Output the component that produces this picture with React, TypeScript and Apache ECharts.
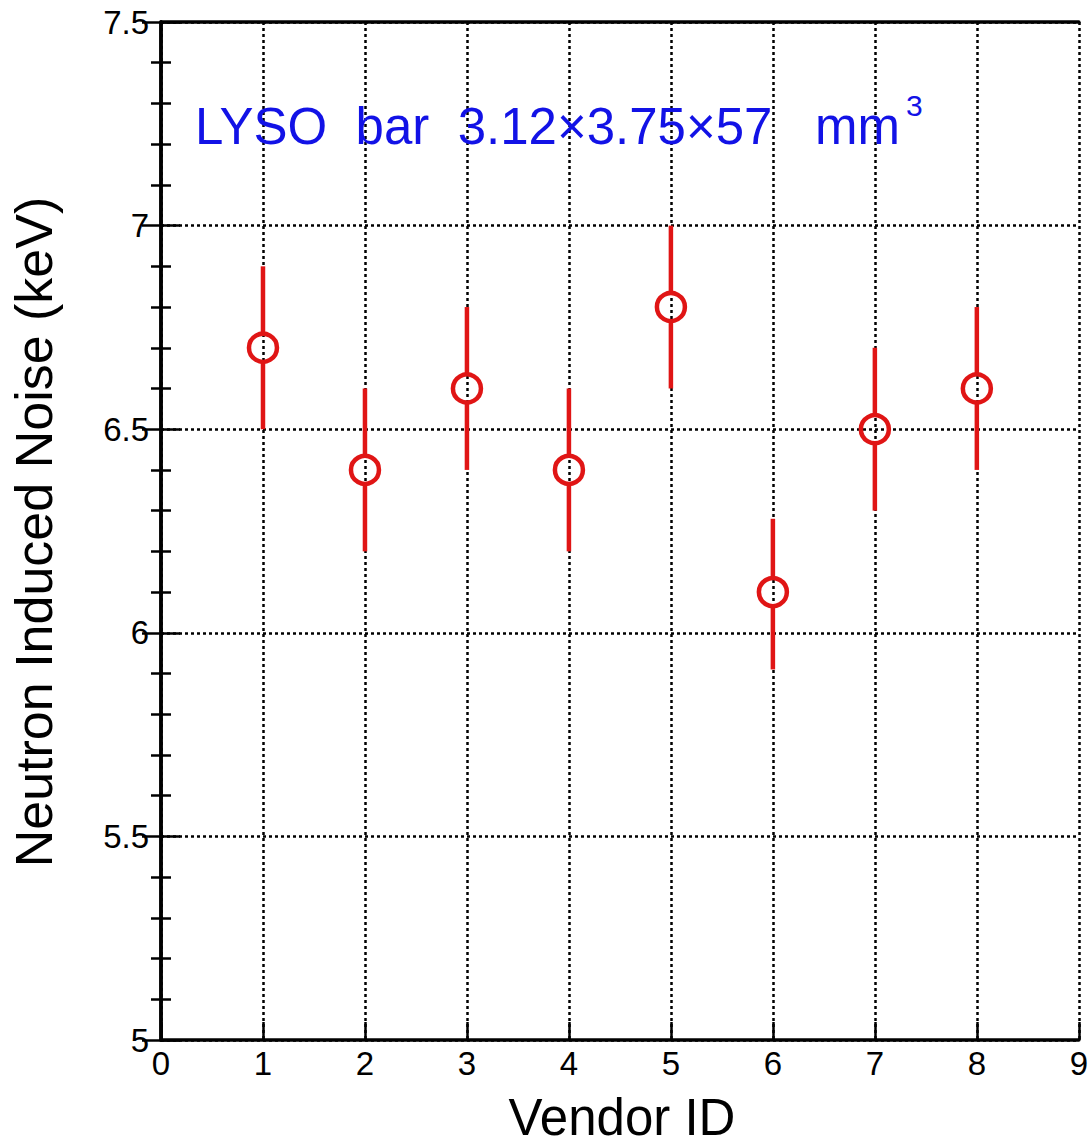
import React, { useEffect, useRef } from "react";
import * as echarts from "echarts";

const vendors = [1, 2, 3, 4, 5, 6, 7, 8];
const noise = [6.7, 6.4, 6.6, 6.4, 6.8, 6.1, 6.5, 6.6];
const errLow = [6.5, 6.2, 6.4, 6.2, 6.6, 5.91, 6.3, 6.4];
const errHigh = [6.9, 6.6, 6.8, 6.6, 7.0, 6.28, 6.7, 6.8];

const xTitle = "Vendor ID";
const yTitle = "Neutron Induced Noise (keV)";
const annotation = "LYSO  bar  3.12×3.75×57   mm";
const annotationSup = "3";

const RED = "#e01515";
const BLUE = "#1212e6";
const FONT = "'Liberation Sans', Arial, sans-serif";

export default function App() {
  const ref = useRef<HTMLDivElement>(null);
  useEffect(() => {
    if (!ref.current) return;
    const chart = echarts.init(ref.current, null, { renderer: "svg" });
    const data = vendors.map((v, i) => [v, noise[i], errLow[i], errHigh[i]]);
    const gridLine = { show: true, lineStyle: { color: "#000", width: 2.5, type: [3, 3] } };
    const frame = { show: true, lineStyle: { color: "#000", width: 3.5 } };
    chart.setOption({
      animation: false,
      backgroundColor: "#fff",
      textStyle: { fontFamily: FONT },
      grid: { left: 161, right: 8, top: 22, bottom: 105, containLabel: false },
      xAxis: [
        {
          type: "value",
          min: 0,
          max: 9,
          interval: 1,
          position: "bottom",
          axisLine: frame,
          axisTick: { show: true, inside: true, length: 18, lineStyle: { color: "#000", width: 2.5 } },
          axisLabel: { fontSize: 33, color: "#000", margin: 7, fontFamily: FONT, showMinLabel: true, showMaxLabel: true },
          splitLine: gridLine,
        },
        {
          type: "value",
          min: 0,
          max: 9,
          interval: 1,
          position: "top",
          axisLine: frame,
          axisTick: { show: false },
          axisLabel: { show: false },
          splitLine: { show: false },
        },
      ],
      yAxis: [
        {
          type: "value",
          min: 5,
          max: 7.5,
          interval: 0.5,
          position: "left",
          axisLine: frame,
          axisTick: { show: true, inside: true, length: 19, lineStyle: { color: "#000", width: 2.5 } },
          minorTick: { show: true, splitNumber: 5, length: 10, lineStyle: { color: "#000", width: 2.5 } },
          axisLabel: { fontSize: 33, color: "#000", margin: 12, fontFamily: FONT, showMinLabel: true, showMaxLabel: true },
          splitLine: gridLine,
        },
        {
          type: "value",
          min: 5,
          max: 7.5,
          interval: 0.5,
          position: "right",
          axisLine: frame,
          axisTick: { show: true, inside: true, length: 19, lineStyle: { color: "#000", width: 2.5 } },
          minorTick: { show: true, splitNumber: 5, length: 10, lineStyle: { color: "#000", width: 2.5 } },
          axisLabel: { show: false },
          splitLine: { show: false },
        },
      ],
      series: [
        {
          type: "custom",
          xAxisIndex: 0,
          yAxisIndex: 0,
          data,
          z: 10,
          renderItem: (params: any, api: any) => {
            const c = api.coord([api.value(0), api.value(1)]);
            const top = api.coord([api.value(0), api.value(3)]);
            const bot = api.coord([api.value(0), api.value(2)]);
            const r = 14;
            const st = { stroke: RED, lineWidth: 4.5, fill: "none" };
            return {
              type: "group",
              children: [
                { type: "line", shape: { x1: c[0], y1: top[1], x2: c[0], y2: c[1] - r }, style: st },
                { type: "line", shape: { x1: c[0], y1: c[1] + r, x2: c[0], y2: bot[1] }, style: st },
                { type: "circle", shape: { cx: c[0], cy: c[1], r }, style: st },
              ],
            };
          },
        },
      ],
      graphic: [
        {
          type: "text",
          x: 195,
          y: 126,
          style: { text: annotation, fill: BLUE, font: `51px ${FONT}`, align: "left", verticalAlign: "middle" },
          z: 20,
        },
        {
          type: "text",
          x: 906,
          y: 105,
          style: { text: annotationSup, fill: BLUE, font: `30px ${FONT}`, align: "left", verticalAlign: "middle" },
          z: 20,
        },
        {
          type: "text",
          x: 622,
          y: 1117,
          style: { text: xTitle, fill: "#000", font: `51px ${FONT}`, align: "center", verticalAlign: "middle" },
        },
        {
          type: "text",
          x: 34,
          y: 532,
          rotation: Math.PI / 2,
          style: { text: yTitle, fill: "#000", font: `52px ${FONT}`, align: "center", verticalAlign: "middle" },
        },
      ],
    });
    return () => chart.dispose();
  }, []);
  return (
    <div
      ref={ref}
      style={{ position: "absolute", left: 0, top: 0, width: 1091, height: 1145, background: "#fff" }}
    />
  );
}
